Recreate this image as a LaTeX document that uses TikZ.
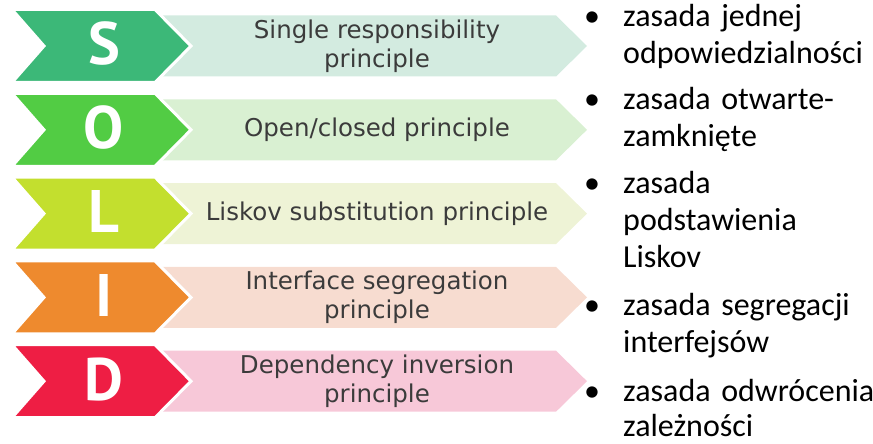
\documentclass[tikz,border=0pt]{standalone}
\usepackage{fontspec}
\setmainfont{DejaVu Sans}
\newfontfamily\letterfont{PT Sans}
\newfontfamily\listfont[WordSpace=0.8]{Carlito}
\definecolor{sA}{HTML}{3CB878}
\definecolor{sB}{HTML}{D3EBE0}
\definecolor{oA}{HTML}{52CC44}
\definecolor{oB}{HTML}{D9F0D2}
\definecolor{lA}{HTML}{C3DF2E}
\definecolor{lB}{HTML}{EEF3D6}
\definecolor{iA}{HTML}{EE8A2E}
\definecolor{iB}{HTML}{F7DCD0}
\definecolor{dA}{HTML}{EE1E44}
\definecolor{dB}{HTML}{F7C8D8}
\definecolor{txt}{HTML}{3B3B3B}
\tikzset{
  letter/.style={text=white, inner sep=0pt, font=\letterfont\bfseries\fontsize{60}{60}\selectfont},
  bandtext/.style={text=txt, inner sep=0pt, align=center, font=\fontsize{24.5}{29}\selectfont},
  item/.style={anchor=base west, inner sep=0pt, text width=320pt, align=left, font=\listfont\fontsize{32}{37}\selectfont},
  bullet/.style={anchor=base, inner sep=0pt, font=\listfont\fontsize{32}{37}\selectfont}
}
\begin{document}
\begin{tikzpicture}[x=1pt,y=-1pt]
\useasboundingbox (0,0) rectangle (873,444);
\foreach \i/\L/\cA/\cB/\txt in {
  0/S/sA/sB/{Single responsibility\\principle},
  1/O/oA/oB/{Open/closed principle},
  2/L/lA/lB/{Liskov substitution principle},
  3/I/iA/iB/{Interface segregation\\principle},
  4/D/dA/dB/{Dependency inversion\\principle}} {
  \pgfmathsetmacro\c{46+83.8*\i}
  \fill[\cB] (150,\c-30.5) -- (556,\c-30.5) -- (587,\c) -- (556,\c+30.5) -- (150,\c+30.5) -- cycle;
  \filldraw[fill=\cA, draw=white, line width=3pt, line join=miter]
    (12,\c-36.5) -- (155,\c-36.5) -- (191,\c) -- (155,\c+36.5) -- (12,\c+36.5) -- (44,\c) -- cycle;
  \node[letter] (let\i) at (104,\c-2) {\L};
  \node[bandtext] (band\i) at (377,\c) {\txt};
}
\node[bullet] (b1) at (592,27) {•};
\node[item] (t1) at (623,27) {zasada jednej\\odpowiedzialności};
\node[bullet] (b2) at (592,110) {•};
\node[item] (t2) at (623,110) {zasada otwarte-\\zamknięte};
\node[bullet] (b3) at (592,193) {•};
\node[item] (t3) at (623,193) {zasada\\podstawienia\\Liskov};
\node[bullet] (b4) at (592,315) {•};
\node[item] (t4) at (623,315) {zasada segregacji\\interfejsów};
\node[bullet] (b5) at (592,401) {•};
\node[item] (t5) at (623,401) {zasada odwrócenia\\[-2pt]zależności};
\end{tikzpicture}
\end{document}
